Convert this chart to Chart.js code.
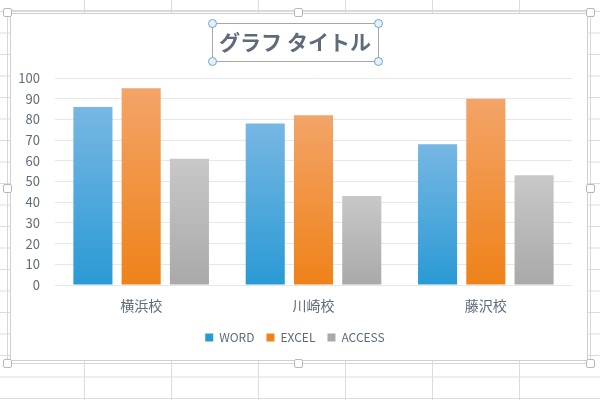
<!DOCTYPE html>
<html>
<head>
<meta charset="utf-8">
<script src="https://cdn.jsdelivr.net/npm/chart.js@4.4.1/dist/chart.umd.min.js"></script>
<style>
	body {
		margin: 0;
		width: 600px;
		height: 400px;
		overflow: hidden;
		background-color: #fff;
		background-image:
			linear-gradient(to right, #dcdcdc 1px, transparent 1px),
			linear-gradient(to bottom, #dcdcdc 1px, transparent 1px);
		background-size: 87px 21.5px;
		background-position: 84px 11px;
	}
	#frame {
		position: absolute;
		left: 10px;
		top: 13px;
		width: 578px;
		height: 348px;
		box-sizing: border-box;
		background: #fff;
		border: 1px solid #cfcfcf;
		outline: 1px solid #d6d6d6;
		outline-offset: 2px;
	}
	#box {
		position: absolute;
		left: 0;
		top: 0;
		width: 576px;
		height: 346px;
	}
	.h {
		position: absolute;
		width: 7px;
		height: 7px;
		background: #fff;
		border: 1px solid #b8b8b8;
		border-radius: 2px;
	}
</style>
</head>
<body>
<div id="frame"><div id="box"><canvas id="myChart"></canvas></div></div>
<div class="h" style="left:3px;top:8px"></div>
<div class="h" style="left:294px;top:8px"></div>
<div class="h" style="left:586px;top:8px"></div>
<div class="h" style="left:3px;top:184px"></div>
<div class="h" style="left:586px;top:184px"></div>
<div class="h" style="left:3px;top:359px"></div>
<div class="h" style="left:294px;top:359px"></div>
<div class="h" style="left:586px;top:359px"></div>
<script>
'use strict';

const schools = ['横浜校', '川崎校', '藤沢校'];
const wordScores = [86, 78, 68];
const excelScores = [95, 82, 90];
const accessScores = [61, 43, 53];
const chartTitle = 'グラフ タイトル';

const textColor = '#5e6b7a';
const fontFamily = '"Noto Sans CJK JP", "Noto Sans", sans-serif';

// degradado vertical por barra (claro arriba, oscuro abajo)
function barFill(top, bottom) {
	return function (c) {
		const chart = c.chart;
		if (!chart.chartArea || c.type !== 'data') return bottom;
		const ys = chart.scales.y;
		const g = chart.ctx.createLinearGradient(0, ys.getPixelForValue(c.raw), 0, ys.getPixelForValue(0));
		g.addColorStop(0, top);
		g.addColorStop(1, bottom);
		return g;
	};
}

// marco de seleccion alrededor del titulo, como en Excel
const titleFrame = {
	id: 'titleFrame',
	afterDraw(chart) {
		const tb = chart.titleBlock;
		const ctx = chart.ctx;
		const opts = tb.options;
		ctx.save();
		ctx.font = 'bold ' + opts.font.size + 'px ' + fontFamily;
		const w = ctx.measureText(chartTitle).width;
		const cx = (tb.left + tb.right) / 2;
		const cy = tb.top + opts.padding.top + opts.font.size * 1.2 / 2;
		const x0 = Math.round(cx - w / 2 - 7) + 0.5;
		const y0 = Math.round(cy - 19) + 0.5;
		const x1 = Math.round(cx + w / 2 + 7) + 0.5;
		const y1 = y0 + 38;
		ctx.strokeStyle = '#a6a6a6';
		ctx.lineWidth = 1;
		ctx.strokeRect(x0, y0, x1 - x0, y1 - y0);
		[[x0, y0], [x1, y0], [x0, y1], [x1, y1]].forEach(function (p) {
			ctx.beginPath();
			ctx.arc(p[0], p[1], 4, 0, Math.PI * 2);
			ctx.fillStyle = '#e6f0fa';
			ctx.fill();
			ctx.strokeStyle = '#6fa3d2';
			ctx.stroke();
		});
		ctx.restore();
	}
};

const ctx = document.getElementById('myChart');
Chart.defaults.font.family = fontFamily;
Chart.defaults.color = textColor;

new Chart(ctx, {
	type: 'bar',
	data: {
		labels: schools,
		datasets: [{
			label: 'WORD',
			data: wordScores,
			backgroundColor: barFill('#77b7e3', '#2a9ad4'),
		}, {
			label: 'EXCEL',
			data: excelScores,
			backgroundColor: barFill('#f3a468', '#ef8219'),
		}, {
			label: 'ACCESS',
			data: accessScores,
			backgroundColor: barFill('#c8c8c8', '#a9a9a9'),
		}]
	},
	options: {
		responsive: true,
		maintainAspectRatio: false,
		animation: false,
		categoryPercentage: 0.84,
		barPercentage: 0.81,
		layout: {
			padding: { left: 7, right: 15, top: 0, bottom: 6.5 }
		},
		plugins: {
			title: {
				display: true,
				text: chartTitle,
				color: textColor,
				font: { size: 21, weight: 'bold' },
				padding: { top: 15.4, bottom: 23.4 },
			},
			legend: {
				position: 'bottom',
				labels: {
					boxWidth: 8,
					boxHeight: 8,
					padding: 12,
					color: textColor,
					font: { size: 12 },
				}
			},
			tooltip: { enabled: false },
		},
		scales: {
			x: {
				grid: { display: false },
				border: { display: false },
				ticks: { padding: 4.6, font: { size: 14 }, color: textColor },
				afterFit(scale) {
					scale.height = 34.5;
					scale.paddingLeft = 0;
					scale.paddingRight = 0;
				},
			},
			y: {
				min: 0,
				max: 100,
				grid: { color: '#e4e8ed', drawTicks: false },
				border: { display: false },
				ticks: { stepSize: 10, padding: 15, font: { size: 13 }, color: textColor },
				afterFit(scale) { scale.width = 37; },
			}
		}
	},
	plugins: [titleFrame]
});
</script>
</body>
</html>
